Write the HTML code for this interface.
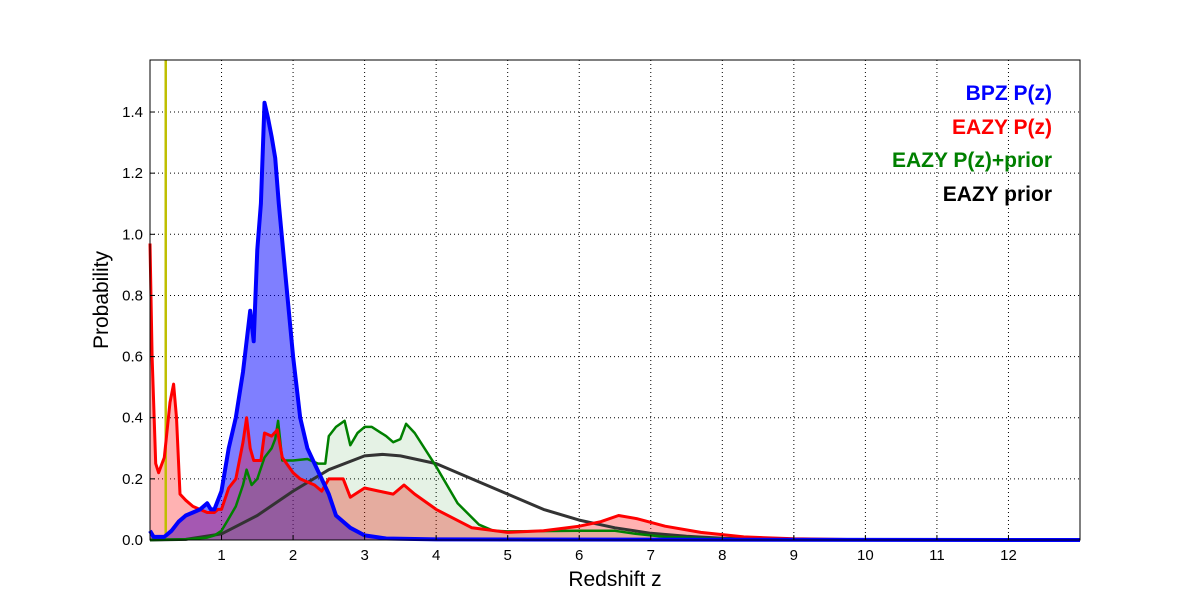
<!DOCTYPE html>
<html><head><meta charset="utf-8"><style>
body{margin:0;background:#fff;}
svg text{font-family:"Liberation Sans",sans-serif;}
</style></head><body>
<svg id="chart" width="1200" height="600" xmlns="http://www.w3.org/2000/svg">
<rect width="1200" height="600" fill="#fff"/>
<g id="grid"></g>
<g id="marks"></g>
<rect x="150" y="60" width="930" height="480" fill="none" stroke="#000" stroke-width="1"/>
<g id="ticks"></g>
<text x="615" y="586" font-size="21" text-anchor="middle">Redshift z</text>
<text transform="translate(108,300) rotate(-90)" font-size="21" text-anchor="middle">Probability</text>
<g font-size="21" font-weight="bold" text-anchor="end">
<text x="1052" y="100" fill="#0000ff">BPZ P(z)</text>
<text x="1052" y="134" fill="#ff0000">EAZY P(z)</text>
<text x="1052" y="167" fill="#008000">EAZY P(z)+prior</text>
<text x="1052" y="201" fill="#000">EAZY prior</text>
</g>
</svg>
<script>
const xTicks=[1,2,3,4,5,6,7,8,9,10,11,12];
const yTicks=[0.0,0.2,0.4,0.6,0.8,1.0,1.2,1.4];
const yTickLabels=["0.0","0.2","0.4","0.6","0.8","1.0","1.2","1.4"];
const bpzZ=[0,0.05,0.2,0.3,0.4,0.5,0.6,0.7,0.8,0.85,0.9,1.0,1.1,1.2,1.3,1.4,1.45,1.5,1.55,1.6,1.65,1.7,1.75,1.8,1.9,2.0,2.1,2.2,2.3,2.4,2.5,2.6,2.8,3.0,3.3,4,13];
const bpzP=[0.03,0.01,0.01,0.03,0.06,0.08,0.09,0.1,0.12,0.1,0.1,0.16,0.3,0.4,0.55,0.75,0.65,0.95,1.1,1.43,1.38,1.32,1.25,1.1,0.85,0.6,0.4,0.3,0.25,0.2,0.15,0.08,0.04,0.015,0.005,0.002,0];
const eazyZ=[0,0.03,0.08,0.12,0.2,0.28,0.33,0.37,0.42,0.5,0.6,0.8,0.9,0.95,1.0,1.1,1.2,1.3,1.35,1.4,1.45,1.55,1.6,1.7,1.78,1.85,2.0,2.1,2.3,2.4,2.5,2.7,2.8,3.0,3.2,3.4,3.55,3.7,4.0,4.5,5.0,5.5,6,6.3,6.55,6.8,7.2,7.7,8.3,9,10,13];
const eazyP=[0.97,0.6,0.25,0.22,0.27,0.45,0.51,0.4,0.15,0.13,0.11,0.09,0.09,0.1,0.1,0.17,0.2,0.32,0.4,0.3,0.26,0.26,0.35,0.34,0.36,0.27,0.22,0.2,0.18,0.16,0.2,0.2,0.14,0.17,0.16,0.15,0.18,0.15,0.1,0.04,0.025,0.03,0.045,0.06,0.08,0.07,0.045,0.025,0.01,0.004,0.001,0];
const postZ=[0,0.5,0.8,0.9,1.0,1.1,1.2,1.3,1.35,1.42,1.5,1.6,1.7,1.75,1.79,1.85,2.0,2.2,2.35,2.45,2.5,2.6,2.72,2.8,2.9,3.0,3.1,3.3,3.4,3.5,3.58,3.7,4.0,4.3,4.6,4.8,5.0,6.0,6.5,6.8,7.2,8,9,13];
const postP=[0,0.002,0.008,0.015,0.03,0.07,0.11,0.18,0.23,0.18,0.2,0.27,0.3,0.33,0.39,0.26,0.26,0.265,0.25,0.25,0.34,0.37,0.39,0.31,0.35,0.37,0.37,0.34,0.32,0.33,0.38,0.35,0.24,0.12,0.05,0.03,0.028,0.03,0.03,0.02,0.01,0.004,0.001,0];
const priorZ=[0,0.5,1.0,1.5,2,2.5,3,3.25,3.5,4,4.5,5,5.5,6,6.5,7,7.5,8,9,10,13];
const priorP=[0,0.002,0.02,0.08,0.16,0.23,0.275,0.28,0.275,0.25,0.2,0.15,0.1,0.065,0.04,0.022,0.012,0.006,0.002,0,0];
const markerZ=[0.22];

const X=z=>150+z*(930/13);
const Y=p=>540-p*305.7;
const NS="http://www.w3.org/2000/svg";
function mk(tag,parent,attrs){const e=document.createElementNS(NS,tag);for(const k in attrs)e.setAttribute(k,attrs[k]);parent.appendChild(e);return e;}
const grid=document.getElementById('grid'),ticks=document.getElementById('ticks'),marks=document.getElementById('marks');
xTicks.forEach(t=>{
  const l=mk('line',grid,{x1:X(t),x2:X(t),y1:60,y2:540,stroke:'#000','stroke-dasharray':'1,3','stroke-width':1});
  
  
  const tk=mk('line',ticks,{x1:X(t),x2:X(t),y1:540,y2:535,stroke:'#000'});
  
  
  const tx=mk('text',ticks,{x:X(t),y:560,'font-size':15,'text-anchor':'middle'});
  tx.textContent=t;
  
  
});
yTicks.forEach((t,i)=>{
  if(t>0){const l=mk('line',grid,{x1:150,x2:1080,y1:Y(t),y2:Y(t),stroke:'#000','stroke-dasharray':'1,3','stroke-width':1});
  
  }
  const tk=mk('line',ticks,{x1:150,x2:155,y1:Y(t),y2:Y(t),stroke:'#000'});
  
  
  const tx=mk('text',ticks,{x:143,y:Y(t)+5,'font-size':15,'text-anchor':'end'});
  tx.textContent=yTickLabels[i];
  
  
});
function line(zs,ps){return zs.map((z,i)=>(i?'L':'M')+X(Math.min(z,13)).toFixed(1)+','+Y(ps[i]).toFixed(1)).join('');}
function area(zs,ps){return line(zs,ps)+'L'+X(zs[zs.length-1])+','+Y(0)+'L'+X(zs[0])+','+Y(0)+'Z';}
const series=[
 {z:bpzZ,p:bpzP,fill:'rgba(0,0,255,0.5)',stroke:'#0000ff',w:4,name:'bpz'},
 {z:eazyZ,p:eazyP,fill:'rgba(255,0,0,0.3)',stroke:'#ff0000',w:3,name:'eazy'},
 {z:postZ,p:postP,fill:'rgba(0,128,0,0.1)',stroke:'#008000',w:2.5,name:'eazy-prior-product'}];
series.forEach(s=>{
  const a=mk('path',marks,{d:area(s.z,s.p),fill:s.fill,stroke:'none'});
  
  
});
markerZ.forEach(z=>{
  const m=mk('line',marks,{x1:X(z),x2:X(z),y1:60,y2:540,stroke:'#bfbf00','stroke-width':2.5});
  
  
});
const pr=mk('path',marks,{d:line(priorZ,priorP),fill:'none',stroke:'#333',"stroke-width":3,'stroke-linejoin':'round'});


series.slice().reverse().forEach(s=>{
  const l=mk('path',marks,{d:line(s.z,s.p),fill:'none',stroke:s.stroke,'stroke-width':s.w,'stroke-linejoin':'round'});
  
  
});
</script>
</body></html>
